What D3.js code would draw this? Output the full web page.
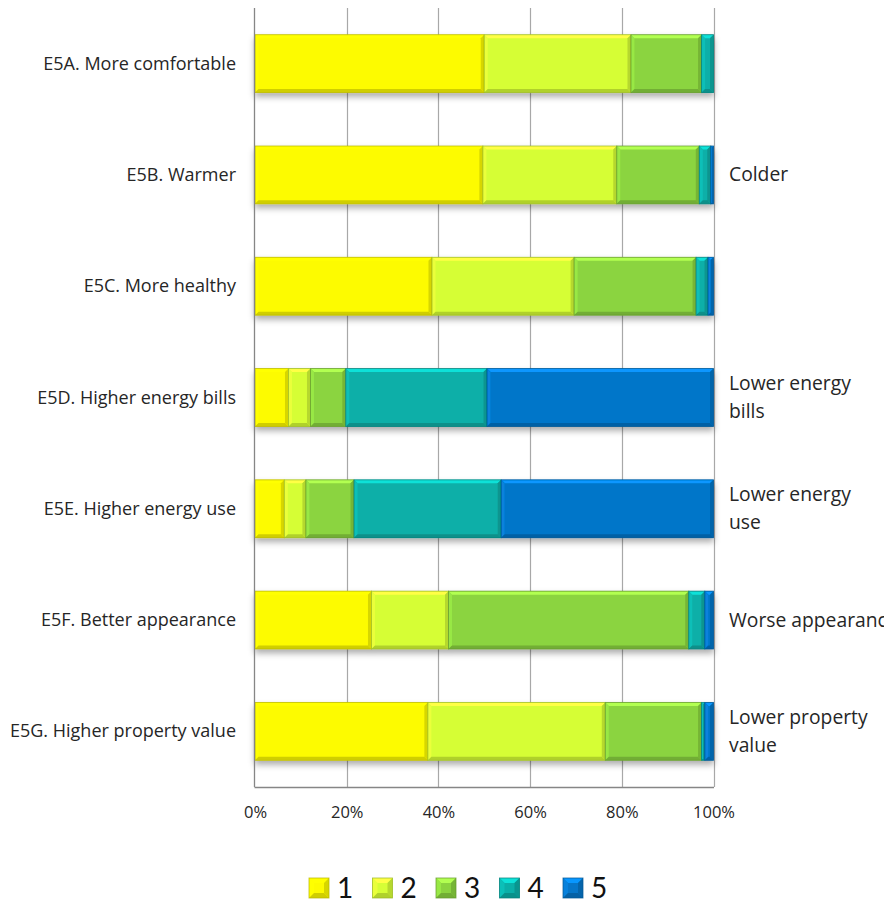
<!DOCTYPE html>
<html>
<head>
<meta charset="utf-8">
<script src="https://cdn.jsdelivr.net/npm/d3@7"></script>
<style>
  html, body { margin: 0; padding: 0; background: #fff; }
  svg { display: block; }
</style>
</head>
<body>
<svg id="chart" width="887" height="903"></svg>
<script>
// Survey statements (rows, top to bottom)
const categories = [
  "E5A. More comfortable",
  "E5B. Warmer",
  "E5C. More healthy",
  "E5D. Higher energy bills",
  "E5E. Higher energy use",
  "E5F. Better appearance",
  "E5G. Higher property value"
];

// Opposite-pole labels shown to the right of each bar (lines per label)
const oppositeLabels = [
  [],
  ["Colder"],
  [],
  ["Lower energy", "bills"],
  ["Lower energy", "use"],
  ["Worse appearance"],
  ["Lower property", "value"]
];

// Response scale
const responseKeys = ["1", "2", "3", "4", "5"];

// Share of responses (%) per statement, one array per scale point
const resp1 = [50.0, 49.7, 38.6, 7.3, 6.4, 25.4, 37.7];
const resp2 = [32.0, 29.2, 31.0, 4.8, 4.7, 16.8, 38.7];
const resp3 = [15.4, 18.0, 26.6, 7.7, 10.5, 52.4, 21.0];
const resp4 = [2.6, 2.5, 2.6, 30.8, 32.1, 3.5, 0.7];
const resp5 = [0.0, 0.6, 1.2, 49.4, 46.3, 1.9, 1.9];

const tickValues = [0, 0.2, 0.4, 0.6, 0.8, 1.0];

const colors = ["#fdfb00", "#d6fe36", "#8bd43f", "#0aafa8", "#0676c9"];

// Build rows for the stack layout
const seriesArrays = [resp1, resp2, resp3, resp4, resp5];
const rows = categories.map((c, i) => {
  const r = { category: c };
  responseKeys.forEach((k, j) => { r[k] = seriesArrays[j][i]; });
  return r;
});

const stacked = d3.stack().keys(responseKeys).offset(d3.stackOffsetExpand)(rows);

const svg = d3.select("#chart");
const font = "'Open Sans', Lato, sans-serif";

const plotTop = 8, plotBottom = 787;
const x = d3.scaleLinear().domain([0, 1]).range([255, 713.5]);
const y = d3.scaleBand().domain(categories).range([plotTop, plotBottom])
  .paddingInner(0.48).paddingOuter(0.24);
const color = d3.scaleOrdinal().domain(responseKeys).range(colors);

// Soft shadow under the bars
const defs = svg.append("defs");
const shadow = defs.append("filter").attr("id", "barShadow")
  .attr("x", "-5%").attr("y", "-20%").attr("width", "110%").attr("height", "150%");
shadow.append("feDropShadow")
  .attr("dx", 0).attr("dy", 4).attr("stdDeviation", 3)
  .attr("flood-color", "#000").attr("flood-opacity", 0.32);

// Right-hand text box ends at the page edge
defs.append("clipPath").attr("id", "rightClip")
  .append("rect").attr("x", 715).attr("y", 0).attr("width", 169).attr("height", 903);

// Vertical gridlines
svg.append("g").selectAll("line").data(tickValues.slice(1)).join("line")
  .attr("x1", d => Math.round(x(d)) + 0.5).attr("x2", d => Math.round(x(d)) + 0.5)
  .attr("y1", plotTop).attr("y2", plotBottom)
  .attr("stroke", "#a8a8a8").attr("stroke-width", 1.2);

// Bevelled rectangle: flat face with lighter top/left and darker bottom/right edges
function bevel(g, x0, x1, y0, y1, base, bMax) {
  const w = x1 - x0, h = y1 - y0;
  const b = Math.min(bMax, w / 2, h / 2);
  const c = d3.color(base);
  g.append("rect").attr("x", x0).attr("y", y0).attr("width", w).attr("height", h)
    .attr("fill", base);
  const poly = (pts, fill) => g.append("polygon")
    .attr("points", pts.map(p => p.join(",")).join(" ")).attr("fill", fill);
  poly([[x0, y0], [x1, y0], [x1 - b, y0 + b], [x0 + b, y0 + b]], c.brighter(0.7).formatHex());
  poly([[x0, y0], [x0 + b, y0 + b], [x0 + b, y1 - b], [x0, y1]], c.brighter(0.25).formatHex());
  poly([[x1, y0], [x1, y1], [x1 - b, y1 - b], [x1 - b, y0 + b]], c.darker(0.45).formatHex());
  poly([[x0, y1], [x0 + b, y1 - b], [x1 - b, y1 - b], [x1, y1]], c.darker(0.55).formatHex());
  g.append("rect").attr("x", x0).attr("y", y0).attr("width", w).attr("height", h)
    .attr("fill", "none").attr("stroke", c.darker(0.9).formatHex()).attr("stroke-width", 0.9)
    .attr("stroke-opacity", 0.8);
}

const barsG = svg.append("g");
categories.forEach((cat, i) => {
  const row = barsG.append("g").attr("filter", "url(#barShadow)");
  stacked.forEach(layer => {
    const d = layer[i];
    if (d[1] - d[0] <= 0) return;
    bevel(row, x(d[0]), x(d[1]), y(cat), y(cat) + y.bandwidth(), color(layer.key), 3.5);
  });
});

// Axis lines (left and bottom)
svg.append("line").attr("x1", 254.5).attr("x2", 254.5).attr("y1", plotTop).attr("y2", plotBottom)
  .attr("stroke", "#868686").attr("stroke-width", 1.3);
svg.append("line").attr("x1", 254.5).attr("x2", x(1) + 0.5).attr("y1", plotBottom + 0.5).attr("y2", plotBottom + 0.5)
  .attr("stroke", "#868686").attr("stroke-width", 1.3);

// Percentage axis
const xAxis = svg.append("g").attr("transform", `translate(0,${plotBottom})`)
  .call(d3.axisBottom(x).tickValues(tickValues).tickFormat(d3.format(".0%"))
    .tickSizeInner(0).tickSizeOuter(0).tickPadding(19));
xAxis.select(".domain").remove();
xAxis.selectAll("text").attr("font-family", font).attr("font-size", 16.5).attr("fill", "#262626");

// Statement labels
svg.append("g").selectAll("text").data(categories).join("text")
  .attr("x", 236).attr("y", d => y(d) + y.bandwidth() / 2 + 6)
  .attr("text-anchor", "end")
  .attr("font-family", font).attr("font-size", 18).attr("fill", "#262626")
  .text(d => d);

// Opposite-pole labels
const rg = svg.append("g").attr("clip-path", "url(#rightClip)");
categories.forEach((cat, i) => {
  const lines = oppositeLabels[i];
  if (!lines.length) return;
  const cy = y(cat) + y.bandwidth() / 2;
  const lh = 28;
  const t = rg.append("text").attr("font-family", font).attr("font-size", 19.3).attr("fill", "#262626");
  lines.forEach((ln, k) => {
    t.append("tspan").attr("x", 729)
      .attr("y", cy + (k - (lines.length - 1) / 2) * lh + 6.5)
      .text(ln);
  });
});

// Legend with bevelled swatches
const legend = svg.append("g");
responseKeys.forEach((k, j) => {
  const lx = 309 + j * 63.5, ly = 878, s = 20;
  const g = legend.append("g");
  bevel(g, lx, lx + s, ly, ly + s, color(k), 5);
  g.append("text").attr("x", lx + 28).attr("y", ly + s)
    .attr("font-family", "Lato, sans-serif").attr("font-size", 28).attr("fill", "#111").text(k);
});
</script>
</body>
</html>
